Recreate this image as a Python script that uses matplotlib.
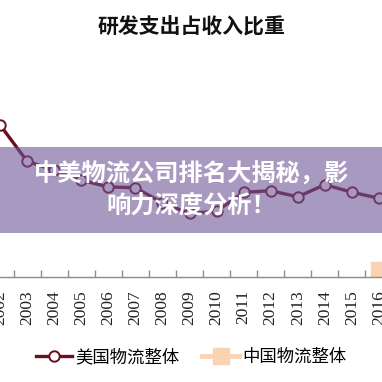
import numpy as np
import matplotlib
matplotlib.use("Agg")
import matplotlib.pyplot as plt
from matplotlib.patches import Rectangle

plt.rcParams['font.family'] = ['Noto Sans CJK SC', 'DejaVu Sans']

years = ["2002", "2003", "2004", "2005", "2006", "2007", "2008", "2009",
         "2010", "2011", "2012", "2013", "2014", "2015", "2016"]
us_values = [2.01, 1.53, 1.41, 1.28, 1.19, 1.18, 0.98, 0.84,
             0.87, 1.12, 1.14, 1.06, 1.22, 1.12, 1.04]
cn_values = [np.nan] * 14 + [0.09]
title = "研发支出占收入比重"
banner = "中美物流公司排名大揭秘，影\n响力深度分析！"
us_label = "美国物流整体"
cn_label = "中国物流整体"

fig = plt.figure(figsize=(3.82, 3.82), dpi=100)
ax = fig.add_axes([0, 105 / 382, 1, 227 / 382])
x = np.arange(len(years))

ax.plot(x, us_values, color="#6B0F1F", lw=2.4, marker="o", ms=7.5,
        mfc="white", mec="#6B0F1F", mew=1.4, label=us_label, zorder=3)
ax.plot(x, cn_values, color="#F9D3B2", lw=3.5, marker="s", ms=11,
        mfc="#F9D3B2", mec="#F9D3B2", label=cn_label, zorder=2)

ax.set_xlim(0.218, 14.11)
ax.set_ylim(0, 3.0)
for s in ["top", "left", "right"]:
    ax.spines[s].set_visible(False)
ax.spines["bottom"].set_color("#8C8C8C")
ax.spines["bottom"].set_linewidth(1.0)
ax.set_yticks([])
ax.set_xticks(np.arange(0.5, 14, 1))
ax.set_xticklabels([])
ax.tick_params(axis="x", which="major", direction="in", length=5,
               color="#8C8C8C", width=1.0)
ax.set_xticks(x, minor=True)
ax.set_xticklabels(years, minor=True, rotation=90,
                   fontfamily="Liberation Serif", fontsize=12.5, color="#222222")
ax.tick_params(axis="x", which="minor", length=0, pad=9.5)

fig.text(0.5, 1 - 27 / 382, title, ha="center", va="center",
         fontsize=15, fontweight="bold", color="#111111")

fig.legend(loc="center", bbox_to_anchor=(0.5, 1 - 357 / 382), ncol=2,
           frameon=False, fontsize=12.5, handlelength=2.1,
           handletextpad=0.2, columnspacing=1.3)

fig.patches.append(Rectangle((0, 1 - 233 / 382), 1, 86 / 382,
                             transform=fig.transFigure, facecolor="#6E5596",
                             alpha=0.6, edgecolor="none", zorder=5))
fig.text(0.5, 1 - 190 / 382, banner, ha="center", va="center",
         fontsize=17.5, fontweight="bold", color="white", linespacing=1.35,
         zorder=6)

fig.savefig("out.png", dpi=100)
